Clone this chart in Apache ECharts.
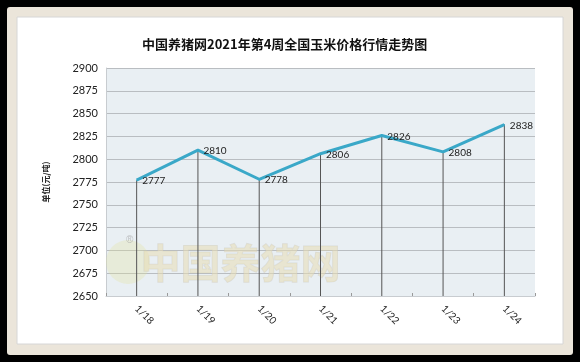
<!DOCTYPE html>
<html>
<head>
<meta charset="utf-8">
<script src="https://cdn.jsdelivr.net/npm/echarts@6/dist/echarts.min.js"></script>
<style>
html,body{margin:0;padding:0;background:#000;}
#c{width:580px;height:362px;}
</style>
</head>
<body>
<div id="c"></div>
<script>
const titleText = '中国养猪网2021年第4周全国玉米价格行情走势图';
const categories = ['1/18','1/19','1/20','1/21','1/22','1/23','1/24'];
const prices = [2777, 2810, 2778, 2806, 2826, 2808, 2838];
const yMin = 2650, yMax = 2900, yStep = 25;
const yName = '单位(元/吨)';
const watermark = '中国养猪网';

const chart = echarts.init(document.getElementById('c'));
chart.setOption({
  backgroundColor: '#000',
  animation: false,
  title: {
    text: titleText,
    left: 137, top: 33,
    textStyle: {fontSize: 13, fontWeight: 'bold', color: '#111', fontFamily: 'Noto Sans CJK SC'}
  },
  graphic: [
    {type: 'rect', z: -20, shape: {x: 7, y: 7, width: 566, height: 348, r: 3}, style: {fill: '#ebe5da'}},
    {type: 'rect', z: -19, shape: {x: 17, y: 17, width: 546, height: 327}, style: {fill: '#fff', stroke: '#d6d6d6', lineWidth: 1}},
    {type: 'circle', z: 1, silent: true, shape: {cx: 128, cy: 262, r: 22}, style: {fill: 'rgba(225,225,150,0.28)'}},
    {type: 'text', z: 1, silent: true, left: 140, top: 242,
      style: {text: watermark, fontSize: 40, fontWeight: 'bold', fontFamily: 'Noto Sans CJK SC',
        fill: 'rgba(232,220,180,0.55)', stroke: 'rgba(195,192,182,0.35)', lineWidth: 1}},
    {type: 'text', z: 1, silent: true, left: 126, top: 235,
      style: {text: '®', fontSize: 10, fill: 'rgba(160,160,160,0.6)'}}
  ],
  grid: {
    left: 106, right: 45, top: 68, bottom: 66,
    show: true, backgroundColor: '#e9eff3', borderWidth: 0
  },
  xAxis: {
    type: 'category',
    data: categories,
    boundaryGap: true,
    axisLine: {show: true, lineStyle: {color: '#c8ccd0'}},
    axisTick: {show: true, inside: true, length: 3, lineStyle: {color: '#999'}},
    axisLabel: {rotate: -45, margin: 11, fontSize: 10, color: '#222', fontFamily: 'Lato'},
    splitLine: {show: false}
  },
  yAxis: {
    type: 'value',
    min: yMin, max: yMax, interval: yStep,
    name: yName,
    nameLocation: 'middle',
    nameGap: 56,
    nameTextStyle: {fontSize: 8, fontWeight: 'bold', color: '#222', fontFamily: 'Noto Sans CJK SC'},
    axisLine: {show: true, lineStyle: {color: '#c8ccd0'}},
    axisTick: {show: false},
    axisLabel: {fontSize: 11, color: '#222', margin: 8, fontFamily: 'Lato', formatter: v => String(v)},
    splitLine: {show: true, lineStyle: {color: '#b9bdc1', width: 1}}
  },
  series: [
    {
      type: 'bar',
      data: prices,
      barWidth: 1,
      silent: true,
      itemStyle: {color: '#555'},
      z: 1
    },
    {
      type: 'line',
      data: prices,
      symbol: 'circle',
      symbolSize: 1,
      showSymbol: true,
      itemStyle: {color: '#3aa8c8'},
      lineStyle: {color: '#3aa8c8', width: 3},
      label: {show: true, position: 'right', distance: 5, offset: [0, 1], fontSize: 10, color: '#222', fontFamily: 'Lato'},
      z: 3
    }
  ]
});
</script>
</body>
</html>
